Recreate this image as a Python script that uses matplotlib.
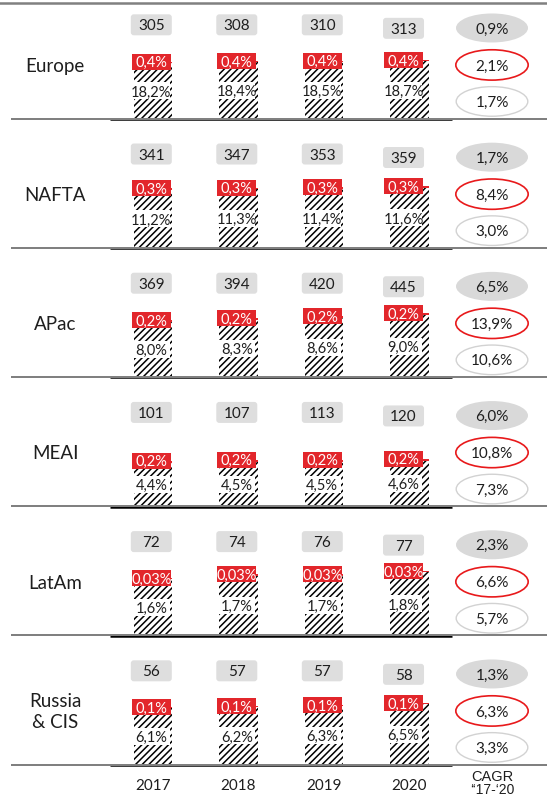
import matplotlib
matplotlib.use("Agg")
import matplotlib.pyplot as plt
import matplotlib.transforms as mtransforms
from matplotlib.offsetbox import DrawingArea, AnnotationBbox
from matplotlib.patches import FancyBboxPatch, Ellipse, Rectangle
from matplotlib.lines import Line2D

# ---------------- data ----------------
regions = ["Europe", "NAFTA", "APac", "MEAI", "LatAm", "Russia\n& CIS"]
years = ["2017", "2018", "2019", "2020"]
totals = [
    [305, 308, 310, 313],
    [341, 347, 353, 359],
    [369, 394, 420, 445],
    [101, 107, 113, 120],
    [72, 74, 76, 77],
    [56, 57, 57, 58],
]
base_share = [
    [18.2, 18.4, 18.5, 18.7],
    [11.2, 11.3, 11.4, 11.6],
    [8.0, 8.3, 8.6, 9.0],
    [4.4, 4.5, 4.5, 4.6],
    [1.6, 1.7, 1.7, 1.8],
    [6.1, 6.2, 6.3, 6.5],
]
top_share = [
    [0.4, 0.4, 0.4, 0.4],
    [0.3, 0.3, 0.3, 0.3],
    [0.2, 0.2, 0.2, 0.2],
    [0.2, 0.2, 0.2, 0.2],
    [0.03, 0.03, 0.03, 0.03],
    [0.1, 0.1, 0.1, 0.1],
]
cagr_total = [0.9, 1.7, 6.5, 6.0, 2.3, 1.3]
cagr_top = [2.1, 8.4, 13.9, 10.8, 6.6, 6.3]
cagr_base = [1.7, 3.0, 10.6, 7.3, 5.7, 3.3]
cagr_label = ["CAGR", "\u2018\u201817-\u201820"]

# per-panel value axis limits
panel_ymax = [38, 22.4, 16.8, 11.7, 3.3, 12.5]

# ---------------- style ----------------
W, H, DPI = 547, 798, 100
FONT = ["Lato", "DejaVu Sans"]
plt.rcParams["font.family"] = FONT
plt.rcParams["hatch.linewidth"] = 1.1
TXT = "#1e1e1e"
RED = "#e2262b"
RED_EDGE = "#e8191b"
GREY_BOX = "#dedede"
GREY_ELL = "#d9d9d9"
LIGHT_EDGE = "#d2d2d2"
SEP = "#808080"

fig = plt.figure(figsize=(W / DPI, H / DPI), dpi=DPI)


def pt(p):
    return p * 72.0 / DPI


baselines = [119 + 129.2 * i for i in range(6)]
AX_H = 117
x0_px, step_px = 153.0, 85.5
xlim = (-x0_px / step_px, (W - x0_px) / step_px)
BAR_W = 38.5 / step_px
CAGR_X = (492 - x0_px) / step_px
label_dx = [-0.02, -0.02, -0.02, -0.07]
grey_dy = [0.0, 0.0, 0.0, -0.03]


def shape(ax, xy, w, h, kind, fc, ec="none", lw=0, z=4, coords="data", rounding=3):
    da = DrawingArea(pt(w), pt(h), 0, 0)
    if kind == "round":
        p = FancyBboxPatch((0, 0), pt(w), pt(h),
                           boxstyle=f"round,pad=0,rounding_size={pt(rounding)}",
                           fc=fc, ec=ec, lw=lw)
    elif kind == "ellipse":
        p = Ellipse((pt(w) / 2, pt(h) / 2), pt(w) - lw, pt(h) - lw, fc=fc, ec=ec, lw=lw)
    else:
        p = Rectangle((0, 0), pt(w), pt(h), fc=fc, ec=ec, lw=lw)
    da.add_artist(p)
    ab = AnnotationBbox(da, xy, xycoords=coords, frameon=False, pad=0,
                        box_alignment=(0.5, 0.5), annotation_clip=False)
    ab.set_zorder(z)
    ax.add_artist(ab)


def fmt(v):
    s = f"{v:.2f}" if v < 0.1 else f"{v:.1f}"
    return s.replace(".", ",") + "%"


axes = []
for i, yb in enumerate(baselines):
    ax = fig.add_axes([0, (H - yb) / H, 1, AX_H / H])
    ax.set_xlim(*xlim)
    ax.set_ylim(0, panel_ymax[i])
    ax.axis("off")
    axes.append(ax)
    blend = mtransforms.blended_transform_factory(ax.transData, ax.transAxes)

    xs = list(range(len(years)))
    ax.bar(xs, base_share[i], width=BAR_W, color="white", edgecolor="black",
           hatch="/////", linewidth=0, zorder=2)
    ax.bar(xs, top_share[i], bottom=base_share[i], width=BAR_W, color=RED,
           linewidth=0, zorder=2)

    for j, x in enumerate(xs):
        xl = x + label_dx[j]
        b = base_share[i][j]
        t = top_share[i][j]
        # value label inside hatched segment
        shape(ax, (xl, b / 2), 37, 17, "rect", "white", z=3)
        ax.text(xl, b / 2, fmt(b), ha="center", va="center_baseline",
                fontsize=10.5, color=TXT, zorder=6)
        # red label at bar top
        shape(ax, (xl, b + t), 39, 16, "rect", RED, z=4)
        ax.text(xl, b + t, fmt(t), ha="center", va="center_baseline",
                fontsize=10.5, color="white", zorder=6)
        # total in grey rounded box
        gy = 0.805 + grey_dy[j]
        shape(ax, (xl, gy), 41, 21, "round", GREY_BOX, z=4,
              coords=("data", "axes fraction"))
        ax.text(xl, gy, str(totals[i][j]), transform=blend, ha="center",
                va="center_baseline", fontsize=11, color=TXT, zorder=6)

    # CAGR ellipses
    ell = [
        (0.778, cagr_total[i], GREY_ELL, "none", 0, 72, 29),
        (0.462, cagr_top[i], "white", RED_EDGE, 1.2, 74, 32),
        (0.150, cagr_base[i], "white", LIGHT_EDGE, 1.0, 73, 31),
    ]
    for (ey, val, fc, ec, lw, w, h) in ell:
        shape(ax, (CAGR_X, ey), w, h, "ellipse", fc, ec, lw, z=4,
              coords=("data", "axes fraction"))
        ax.text(CAGR_X, ey, fmt(val), transform=blend, ha="center",
                va="center_baseline", fontsize=11, color=TXT, zorder=6)

    # region label
    ax.text(55 / W, 0.45, regions[i], transform=ax.transAxes, ha="center",
            va="center", fontsize=13.5, color=TXT, linespacing=1.3)

    # category axis line
    ax.hlines(0, -0.5, 3.5, color="black", lw=pt(2.5), zorder=7, clip_on=False)

# separator lines
fig.add_artist(Line2D([0, 1], [1 - 2.5 / H] * 2, transform=fig.transFigure,
                      color=SEP, lw=pt(2.5)))
for yb in baselines:
    fig.add_artist(Line2D([12 / W, 1], [1 - (yb - 0.5) / H] * 2,
                          transform=fig.transFigure, color=SEP, lw=pt(2)))

# year labels
axl = axes[-1]
blend = mtransforms.blended_transform_factory(axl.transData, axl.transAxes)
for j, yr in enumerate(years):
    axl.text(j, -(786 - baselines[-1]) / AX_H, yr, transform=blend,
             ha="center", va="center", fontsize=11, color=TXT)
axl.text(CAGR_X, -(777 - baselines[-1]) / AX_H, cagr_label[0], transform=blend,
         ha="center", va="center", fontsize=10.5, color=TXT,
         family=["Liberation Sans", "DejaVu Sans"])
axl.text(CAGR_X, -(790 - baselines[-1]) / AX_H, cagr_label[1], transform=blend,
         ha="center", va="center", fontsize=10, color=TXT,
         family=["Liberation Sans", "DejaVu Sans"])

fig.savefig("out.png", dpi=DPI)
